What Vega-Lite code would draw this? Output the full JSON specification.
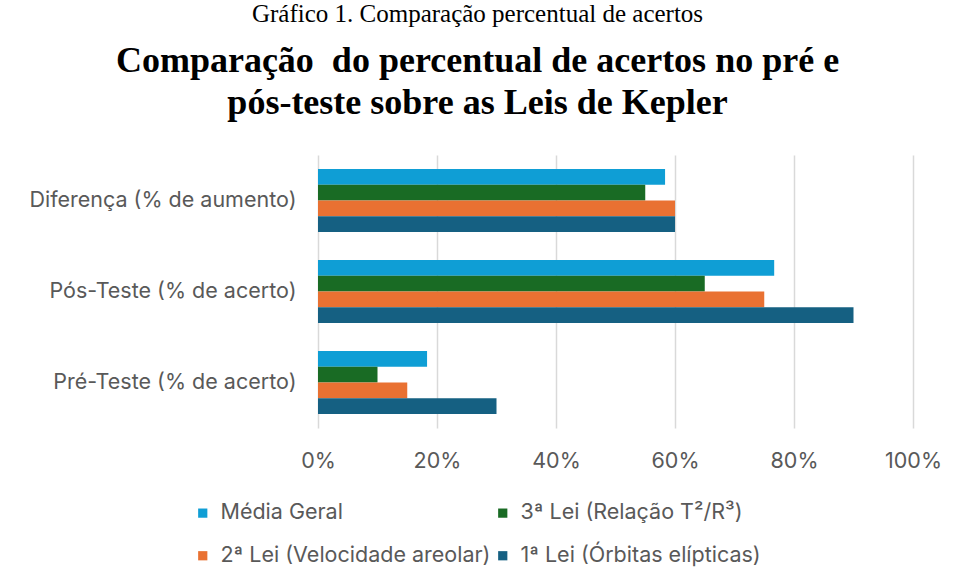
{
  "$schema": "https://vega.github.io/schema/vega-lite/v6.json",
  "width": 595,
  "height": 273,
  "autosize": {"type": "none"},
  "padding": {"left": 318, "top": 155, "right": 41, "bottom": 156},
  "background": "white",
  "title": {
    "text": "Gráfico 1. Comparação percentual de acertos",
    "subtitle": ["Comparação\u00a0 do percentual de acertos no pré e", "pós-teste sobre as Leis de Kepler"],
    "font": "Liberation Serif",
    "fontSize": 25,
    "fontWeight": "normal",
    "color": "black",
    "subtitleFont": "Liberation Serif",
    "subtitleFontSize": 36,
    "subtitleFontWeight": "bold",
    "subtitleColor": "black",
    "subtitleLineHeight": 42,
    "subtitlePadding": 17,
    "anchor": "middle",
    "frame": "group",
    "dx": -138,
    "offset": 34
  },
  "data": {
    "values": [
      {"grupo": "Diferença (% de aumento)", "serie": "Média Geral", "valor": 0.5833},
      {"grupo": "Diferença (% de aumento)", "serie": "3ª Lei (Relação T²/R³)", "valor": 0.55},
      {"grupo": "Diferença (% de aumento)", "serie": "2ª Lei (Velocidade areolar)", "valor": 0.60},
      {"grupo": "Diferença (% de aumento)", "serie": "1ª Lei (Órbitas elípticas)", "valor": 0.60},
      {"grupo": "Pós-Teste (% de acerto)", "serie": "Média Geral", "valor": 0.7667},
      {"grupo": "Pós-Teste (% de acerto)", "serie": "3ª Lei (Relação T²/R³)", "valor": 0.65},
      {"grupo": "Pós-Teste (% de acerto)", "serie": "2ª Lei (Velocidade areolar)", "valor": 0.75},
      {"grupo": "Pós-Teste (% de acerto)", "serie": "1ª Lei (Órbitas elípticas)", "valor": 0.90},
      {"grupo": "Pré-Teste (% de acerto)", "serie": "Média Geral", "valor": 0.1833},
      {"grupo": "Pré-Teste (% de acerto)", "serie": "3ª Lei (Relação T²/R³)", "valor": 0.10},
      {"grupo": "Pré-Teste (% de acerto)", "serie": "2ª Lei (Velocidade areolar)", "valor": 0.15},
      {"grupo": "Pré-Teste (% de acerto)", "serie": "1ª Lei (Órbitas elípticas)", "valor": 0.30}
    ]
  },
  "mark": {"type": "bar"},
  "encoding": {
    "y": {
      "field": "grupo",
      "type": "nominal",
      "sort": ["Diferença (% de aumento)", "Pós-Teste (% de acerto)", "Pré-Teste (% de acerto)"],
      "scale": {"paddingInner": 0.31, "paddingOuter": 0.155},
      "axis": {
        "title": null,
        "domain": false,
        "ticks": false,
        "labelPadding": 22,
        "labelFont": "Inter",
        "labelFontSize": 21.5,
        "labelColor": "#595959",
        "labelLimit": 400
      }
    },
    "yOffset": {
      "field": "serie",
      "type": "nominal",
      "sort": ["Média Geral", "3ª Lei (Relação T²/R³)", "2ª Lei (Velocidade areolar)", "1ª Lei (Órbitas elípticas)"],
      "scale": {"paddingInner": 0, "paddingOuter": 0}
    },
    "x": {
      "field": "valor",
      "type": "quantitative",
      "scale": {"domain": [0, 1], "nice": false},
      "axis": {
        "title": null,
        "format": ".0%",
        "values": [0, 0.2, 0.4, 0.6, 0.8, 1],
        "domain": false,
        "ticks": false,
        "grid": true,
        "gridColor": "#D9D9D9",
        "gridWidth": 1.5,
        "labelFlush": false,
        "labelPadding": 22,
        "labelFont": "Inter",
        "labelFontSize": 21.5,
        "labelColor": "#595959"
      }
    },
    "color": {
      "field": "serie",
      "type": "nominal",
      "sort": ["Média Geral", "3ª Lei (Relação T²/R³)", "2ª Lei (Velocidade areolar)", "1ª Lei (Órbitas elípticas)"],
      "scale": {
        "domain": ["Média Geral", "3ª Lei (Relação T²/R³)", "2ª Lei (Velocidade areolar)", "1ª Lei (Órbitas elípticas)"],
        "range": ["#0F9ED5", "#196B24", "#E97132", "#156082"]
      },
      "legend": {
        "title": null,
        "orient": "none",
        "legendX": -126,
        "legendY": 347,
        "direction": "horizontal",
        "columns": 2,
        "columnPadding": 1,
        "rowPadding": 20,
        "symbolType": "square",
        "symbolSize": 85,
        "symbolStrokeWidth": 0,
        "labelFont": "Inter",
        "labelFontSize": 21.5,
        "labelColor": "#595959",
        "labelLimit": 400,
        "labelOffset": 7
      }
    }
  },
  "config": {
    "view": {"stroke": null}
  }
}
